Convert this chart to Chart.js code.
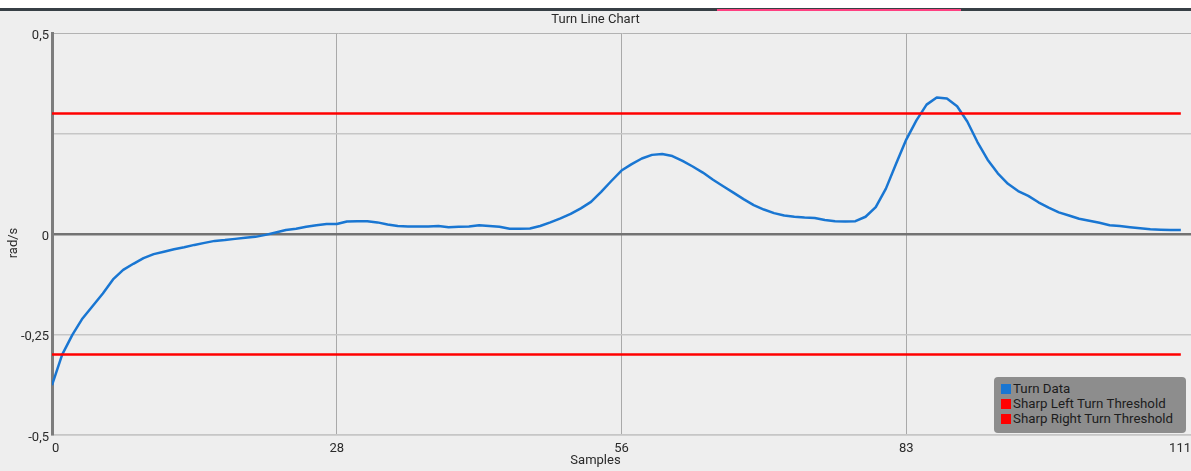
<!DOCTYPE html>
<html><head><meta charset="utf-8">
<script src="https://cdn.jsdelivr.net/npm/chart.js@4.4.1/dist/chart.umd.min.js"></script>
<style>
html,body{margin:0;padding:0;background:#eeeeee;width:1191px;height:471px;overflow:hidden;font-family:Roboto,sans-serif;}
#topw{position:absolute;left:0;top:0;width:1191px;height:8px;background:#ffffff;}
#bar{position:absolute;left:0;top:8px;width:1191px;height:3px;background:#373f45;}
#accent{position:absolute;left:717px;top:9px;width:244px;height:2px;background:#ff4081;}
#wrap{position:absolute;left:0;top:11px;width:1191px;height:460px;}
#legend{position:absolute;left:994px;top:377px;width:192px;height:56px;background:#8d8d8d;border-radius:4px;box-sizing:border-box;padding:4px 0 0 7px;}
.item{height:15px;line-height:15px;font-size:13.3px;color:#1c1c1c;white-space:nowrap;display:flex;align-items:center;}
.sw{width:10px;height:10px;margin-right:2px;flex:none;}
</style></head>
<body>
<div id="topw"></div><div id="bar"></div><div id="accent"></div>
<div id="wrap"><canvas id="c" width="1191" height="460"></canvas></div>
<div id="legend"></div>
<script>
const chartTitle = 'Turn Line Chart';
const xTitle = 'Samples';
const yTitle = 'rad/s';
const seriesNames = ['Turn Data', 'Sharp Left Turn Threshold', 'Sharp Right Turn Threshold'];
const turnData = [
 -0.376,-0.300,-0.251,-0.210,-0.179,-0.148,-0.113,-0.089,-0.074,-0.060,
 -0.050,-0.044,-0.038,-0.033,-0.027,-0.022,-0.017,-0.015,-0.012,-0.009,
 -0.007,-0.002,0.004,0.010,0.013,0.018,0.022,0.025,0.025,0.031,
 0.032,0.032,0.029,0.024,0.020,0.019,0.019,0.019,0.020,0.017,
 0.018,0.019,0.022,0.020,0.018,0.013,0.013,0.014,0.020,0.029,
 0.039,0.050,0.064,0.080,0.105,0.132,0.158,0.174,0.188,0.197,
 0.199,0.194,0.182,0.168,0.153,0.135,0.119,0.103,0.087,0.072,
 0.061,0.052,0.046,0.043,0.041,0.040,0.035,0.032,0.031,0.032,
 0.043,0.067,0.113,0.175,0.235,0.283,0.322,0.340,0.337,0.318,
 0.280,0.229,0.185,0.151,0.125,0.107,0.095,0.079,0.066,0.054,
 0.046,0.038,0.033,0.028,0.022,0.020,0.017,0.0145,0.012,0.011,
 0.010,0.010
];
const leftThreshold = 0.3;
const rightThreshold = -0.3;
const thresholdSpan = [0, 111];
const xTickValues = [0, 28, 56, 84, 112];
const xTickLabels = ['0', '28', '56', '83', '111'];
const yTickValues = [-0.5, -0.25, 0, 0.25, 0.5];
const yTickLabels = ['-0,5', '-0,25', '0', '', '0,5'];
const xMax = 112;

const turnPoints = turnData.map((v, i) => ({x: i, y: v}));
const leftPoints = thresholdSpan.map(x => ({x: x, y: leftThreshold}));
const rightPoints = thresholdSpan.map(x => ({x: x, y: rightThreshold}));

const font = {family: 'Roboto', size: 13, weight: 'normal'};
const textColor = '#2a2a2a';

const yTitlePlugin = {
  id: 'yTitle',
  afterDraw(chart) {
    const ctx = chart.ctx;
    ctx.save();
    ctx.translate(14, 232);
    ctx.rotate(-Math.PI / 2);
    ctx.textAlign = 'center';
    ctx.textBaseline = 'middle';
    ctx.font = '13px Roboto';
    ctx.fillStyle = textColor;
    ctx.fillText(yTitle, 0, 0);
    ctx.restore();
  }
};

const chart = new Chart(document.getElementById('c'), {
  type: 'line',
  data: {
    datasets: [
      {label: seriesNames[0], data: turnPoints, borderColor: '#1976d2', backgroundColor: '#1976d2', borderWidth: 2.5, pointRadius: 0, tension: 0, order: 1, borderJoinStyle: 'round'},
      {label: seriesNames[1], data: leftPoints, borderColor: '#ff0000', backgroundColor: '#ff0000', borderWidth: 2.5, pointRadius: 0, order: 0},
      {label: seriesNames[2], data: rightPoints, borderColor: '#ff0000', backgroundColor: '#ff0000', borderWidth: 2.5, pointRadius: 0, order: 0}
    ]
  },
  options: {
    responsive: false,
    animation: false,
    events: [],
    layout: {padding: 0},
    plugins: {
      legend: {display: false},
      tooltip: {enabled: false},
      title: {display: true, text: chartTitle, font: font, color: textColor, padding: {top: 0.5, bottom: 6}},
      subtitle: {display: true, position: 'bottom', text: xTitle, font: font, color: textColor, padding: {top: 0, bottom: 2.4}}
    },
    scales: {
      x: {
        type: 'linear', min: 0, max: xMax,
        afterBuildTicks: s => { s.ticks = xTickValues.map(v => ({value: v})); },
        afterFit: s => { s.height = 18; s.paddingLeft = 0; s.paddingRight = 0; },
        ticks: {autoSkip: false, maxRotation: 0, align: 'inner', padding: 6, font: font, color: textColor,
          callback: (v, i) => xTickLabels[i]},
        grid: {drawTicks: false, lineWidth: 1,
          color: c => (c.tick && c.tick.value >= xMax) ? 'rgba(0,0,0,0)' : '#a9a9a9'},
        border: {display: true, color: '#c6c6c6', width: 1.5}
      },
      y: {
        type: 'linear', min: -0.5, max: 0.5,
        afterBuildTicks: s => { s.ticks = yTickValues.map(v => ({value: v})); },
        afterFit: s => { s.width = 52; },
        ticks: {autoSkip: false, padding: 3, labelOffset: 2.5, font: font, color: textColor,
          callback: (v, i) => yTickLabels[i]},
        grid: {drawTicks: false,
          color: c => !c.tick ? '#c6c6c6' : (c.tick.value === 0 ? '#727272' : (c.tick.value === 0.5 ? '#b2b2b2' : '#c6c6c6')),
          lineWidth: c => !c.tick ? 1.5 : (c.tick.value === 0 ? 2.5 : (c.tick.value === 0.5 ? 1 : 1.5))},
        border: {display: true, color: '#7c7c7c', width: 3}
      }
    }
  },
  plugins: [yTitlePlugin]
});

const legendEl = document.getElementById('legend');
chart.data.datasets.forEach(ds => {
  const row = document.createElement('div');
  row.className = 'item';
  const sw = document.createElement('span');
  sw.className = 'sw';
  sw.style.background = ds.borderColor;
  const tx = document.createElement('span');
  tx.textContent = ds.label;
  row.appendChild(sw); row.appendChild(tx);
  legendEl.appendChild(row);
});
</script>
</body></html>
